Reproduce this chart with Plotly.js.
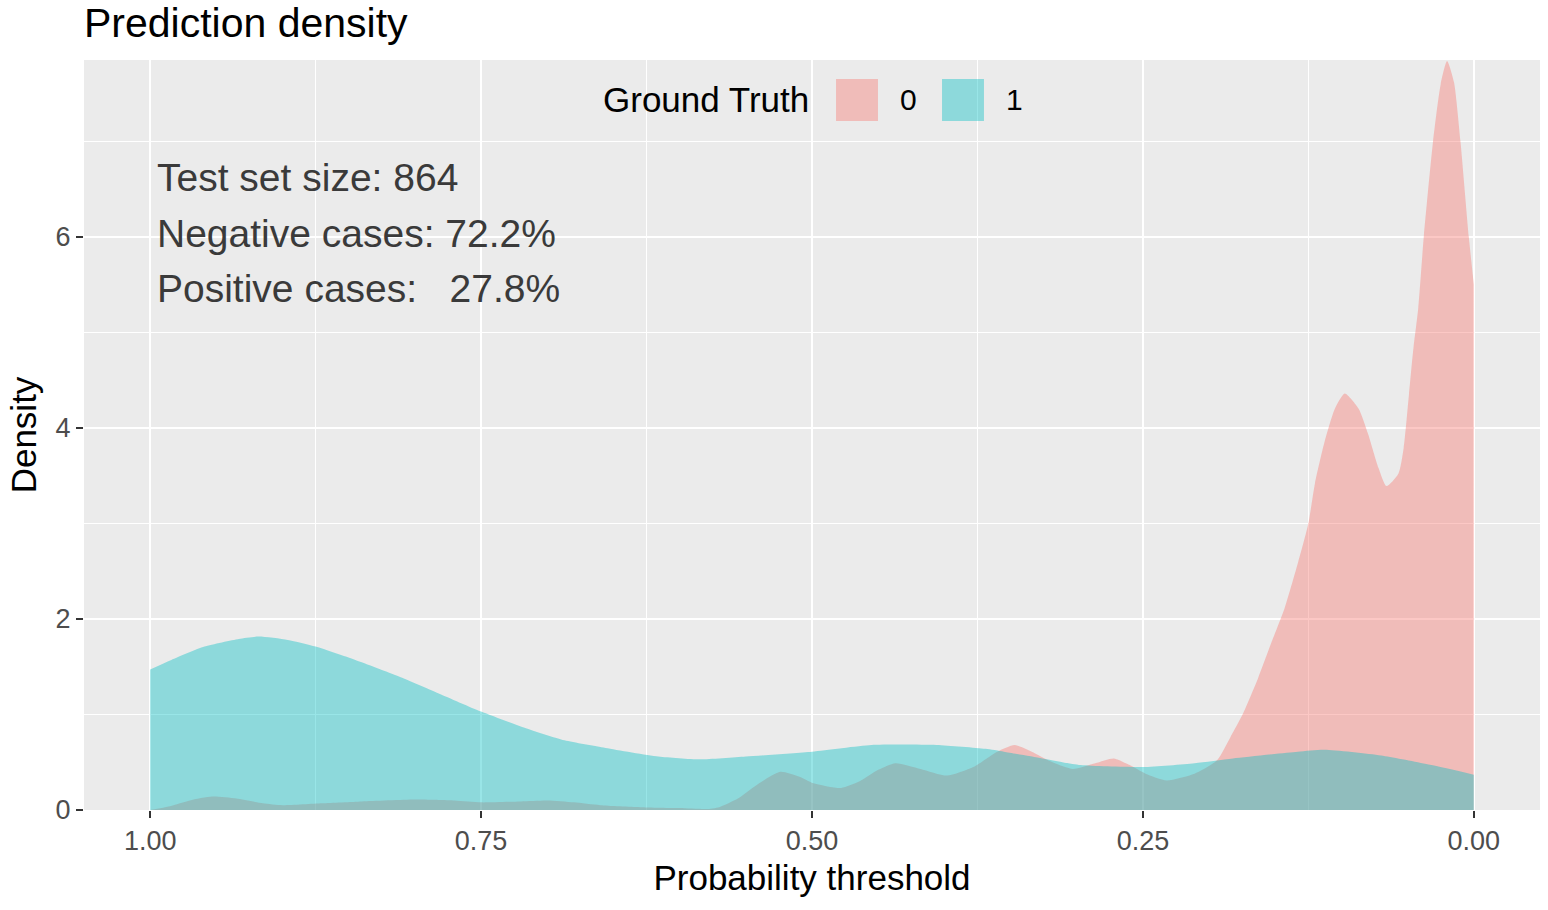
<!DOCTYPE html>
<html>
<head>
<meta charset="utf-8">
<script src="https://cdn.plot.ly/plotly-3.0.1.min.js"></script>
<style>
  html, body { margin: 0; padding: 0; background: #ffffff; }
  #density-plot { width: 1548px; height: 910px; }
</style>
</head>
<body>
<div id="density-plot"></div>
<script>
// ground truth 0 (negative cases): threshold -> density
const negThreshold = [1.00, 0.985, 0.97, 0.953, 0.935, 0.915, 0.90, 0.87, 0.84, 0.80, 0.77, 0.75, 0.72, 0.70, 0.68, 0.66, 0.63, 0.60, 0.58, 0.57,
  0.556, 0.542, 0.524, 0.51, 0.499, 0.478, 0.464, 0.45, 0.437, 0.418, 0.398, 0.378, 0.36, 0.347, 0.334, 0.32, 0.303, 0.286, 0.272, 0.26,
  0.248, 0.232, 0.211, 0.194, 0.184, 0.174, 0.163, 0.153, 0.143, 0.133, 0.125, 0.120, 0.113, 0.105, 0.0975, 0.087, 0.080, 0.072, 0.066, 0.057,
  0.053, 0.049, 0.0455, 0.042, 0.0378, 0.0308, 0.025, 0.0202, 0.015, 0.0101, 0.0038, 0.000];
const negDensity = [0.00, 0.04, 0.10, 0.14, 0.12, 0.07, 0.05, 0.07, 0.09, 0.11, 0.10, 0.08, 0.09, 0.10, 0.08, 0.05, 0.03, 0.02, 0.01, 0.03,
  0.12, 0.26, 0.40, 0.35, 0.28, 0.23, 0.30, 0.42, 0.49, 0.43, 0.36, 0.45, 0.61, 0.68, 0.61, 0.51, 0.43, 0.49, 0.54, 0.47,
  0.38, 0.31, 0.38, 0.52, 0.76, 1.02, 1.38, 1.75, 2.11, 2.58, 3.00, 3.42, 3.84, 4.20, 4.36, 4.20, 3.94, 3.58, 3.39, 3.52,
  3.79, 4.35, 4.85, 5.25, 6.00, 7.00, 7.60, 7.84, 7.62, 7.00, 6.00, 5.50];

// ground truth 1 (positive cases)
const posThreshold = [1.00, 0.984, 0.959, 0.933, 0.918, 0.896, 0.875, 0.845, 0.8125, 0.782, 0.75, 0.719, 0.687, 0.656, 0.616, 0.585, 0.55,
  0.50, 0.455, 0.406, 0.369, 0.355, 0.326, 0.297, 0.25, 0.211, 0.182, 0.133, 0.113, 0.07, 0.032, 0.00];
const posDensity = [1.47, 1.57, 1.71, 1.79, 1.815, 1.78, 1.71, 1.57, 1.40, 1.22, 1.03, 0.87, 0.73, 0.65, 0.56, 0.53, 0.56,
  0.61, 0.68, 0.68, 0.64, 0.61, 0.54, 0.47, 0.45, 0.49, 0.54, 0.61, 0.63, 0.57, 0.47, 0.37];

const groupLabels = ['0', '1'];
const statLines = ['Test set size: 864', 'Negative cases: 72.2%', 'Positive cases:\u00a0\u00a0\u00a027.8%'];

const redFill = 'rgba(248,118,109,0.4)';
const tealFill = 'rgba(0,191,196,0.4)';

const traces = [
  {
    x: negThreshold, y: negDensity, name: groupLabels[0],
    type: 'scatter', mode: 'lines', fill: 'tozeroy', fillcolor: redFill,
    line: { width: 0, shape: 'spline', smoothing: 0.6, color: redFill }
  },
  {
    x: posThreshold, y: posDensity, name: groupLabels[1],
    type: 'scatter', mode: 'lines', fill: 'tozeroy', fillcolor: tealFill,
    line: { width: 0, shape: 'spline', smoothing: 0.6, color: tealFill }
  }
];

const font = 'Liberation Sans, Arial, sans-serif';

// hand-made legend in the style of ggplot (title + square keys)
const legendShapes = [
  { type: 'rect', xref: 'paper', yref: 'paper', x0: 0.5165, x1: 0.5453, y0: 0.9187, y1: 0.9747, fillcolor: redFill, line: { width: 0 }, layer: 'above' },
  { type: 'rect', xref: 'paper', yref: 'paper', x0: 0.5893, x1: 0.6181, y0: 0.9187, y1: 0.9747, fillcolor: tealFill, line: { width: 0 }, layer: 'above' }
];
const legendText = [
  { text: 'Ground Truth', x: 0.4993, xanchor: 'right', size: 35 },
  { text: groupLabels[0], x: 0.566, xanchor: 'center', size: 30 },
  { text: groupLabels[1], x: 0.6394, xanchor: 'center', size: 30 }
].map(function (d) {
  return {
    text: d.text, xref: 'paper', yref: 'paper', x: d.x, y: 0.9467,
    xanchor: d.xanchor, yanchor: 'middle', showarrow: false,
    font: { family: font, size: d.size, color: '#000000' }
  };
});

const statYs = [0.844, 0.769, 0.695];
const statNotes = statLines.map(function (t, i) {
  return {
    text: t, xref: 'paper', yref: 'paper', x: 0.0488, y: statYs[i],
    xanchor: 'left', yanchor: 'middle', showarrow: false,
    font: { family: font, size: 39, color: '#3a3a3a' }
  };
});

const layout = {
  width: 1548,
  height: 910,
  margin: { l: 84, r: 8, t: 60, b: 100 },
  paper_bgcolor: '#ffffff',
  plot_bgcolor: '#ebebeb',
  showlegend: false,
  font: { family: font },
  title: {
    text: 'Prediction density',
    xref: 'paper', x: 0, xanchor: 'left',
    yref: 'container', y: 0.975, yanchor: 'middle',
    font: { family: font, size: 41, color: '#000000' }
  },
  xaxis: {
    title: { text: 'Probability threshold', font: { family: font, size: 35, color: '#000000' }, standoff: 10 },
    range: [1.05, -0.05],
    tickmode: 'linear', tick0: 0, dtick: 0.25, tickformat: '.2f',
    tickfont: { family: font, size: 27, color: '#4d4d4d' },
    ticks: 'outside', ticklen: 7, tickwidth: 2, tickcolor: '#333333',
    showgrid: true, gridcolor: '#ffffff', gridwidth: 2.2,
    minor: { tick0: 0, dtick: 0.125, showgrid: true, gridcolor: '#ffffff', gridwidth: 1.1 },
    zeroline: false, showline: false, automargin: false
  },
  yaxis: {
    title: { text: 'Density', font: { family: font, size: 35, color: '#000000' }, standoff: 8 },
    range: [0, 7.85],
    tickmode: 'linear', tick0: 0, dtick: 2,
    tickfont: { family: font, size: 27, color: '#4d4d4d' },
    ticks: 'outside', ticklen: 7, tickwidth: 2, tickcolor: '#333333',
    showgrid: true, gridcolor: '#ffffff', gridwidth: 2.2,
    minor: { tick0: 0, dtick: 1, showgrid: true, gridcolor: '#ffffff', gridwidth: 1.1 },
    zeroline: false, showline: false, automargin: false
  },
  shapes: legendShapes,
  annotations: legendText.concat(statNotes)
};

Plotly.newPlot('density-plot', traces, layout, { displayModeBar: false, staticPlot: true });
</script>
</body>
</html>
